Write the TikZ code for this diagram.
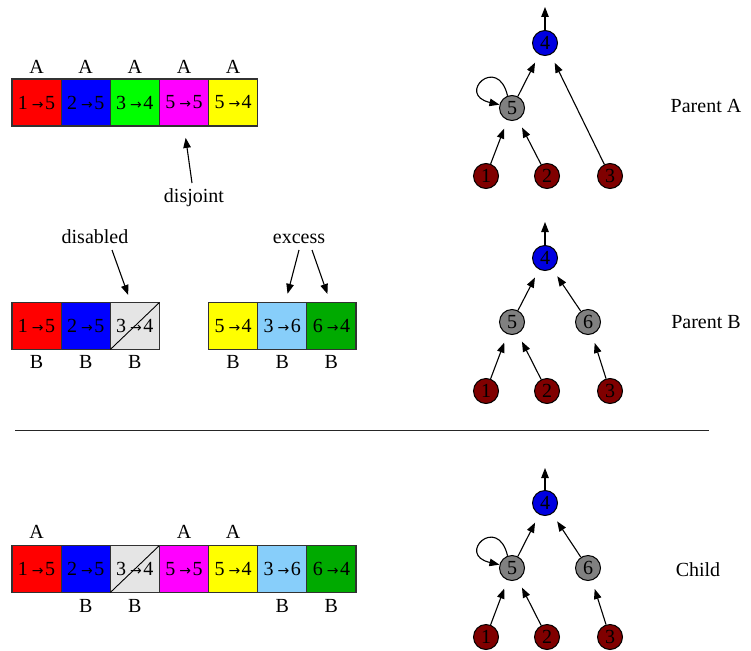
\documentclass[tikz,border=0pt]{standalone}
\usepackage{fontspec}
\setmainfont{Liberation Serif}
\newfontfamily\arrowfont{DejaVu Sans}
\usetikzlibrary{arrows.meta,calc}
\definecolor{gred}{RGB}{255,0,0}
\definecolor{gblue}{RGB}{0,0,255}
\definecolor{ggreen}{RGB}{0,255,0}
\definecolor{gmag}{RGB}{255,0,255}
\definecolor{gyel}{RGB}{255,255,0}
\definecolor{ggray}{RGB}{229,229,229}
\definecolor{gsky}{RGB}{135,206,250}
\definecolor{gdgreen}{RGB}{0,170,0}
\definecolor{nblue}{RGB}{0,0,225}
\definecolor{ngray}{RGB}{128,128,128}
\definecolor{nred}{RGB}{128,0,0}
\definecolor{bord}{RGB}{50,50,50}
\newcommand{\gm}[2]{#1\hspace{4pt}{\arrowfont\fontsize{14}{14}\selectfont →}\hspace{1.5pt}#2}
\begin{document}
\begin{tikzpicture}[x=1pt,y=-1pt,font=\fontsize{20}{24}\selectfont,
  gene/.style={draw=bord,line width=1.1pt,minimum width=49.14pt,minimum height=47pt,inner sep=0pt,outer sep=0pt},
  lab/.style={anchor=base,inner sep=0pt},
  vtx/.style={circle,draw=black,line width=1pt,minimum size=25pt,inner sep=0pt,font=\fontsize{20}{20}\selectfont},
  arr/.style={-{Triangle[length=10pt,width=7.5pt]},line width=1.1pt},
  gap/.style={shorten >=9pt}]
\useasboundingbox (0,0) rectangle (751,650);
% ---------- Parent A genome ----------
\node[gene,fill=gred]  (a1) at (36.57,102.5) {\gm{1}{5}};
\node[gene,fill=gblue] (a2) at (85.71,102.5) {\gm{2}{5}};
\node[gene,fill=ggreen](a3) at (134.85,102.5) {\gm{3}{4}};
\node[gene,fill=gmag]  (a4) at (183.99,102.5) {\gm{5}{5}};
\node[gene,fill=gyel]  (a5) at (233.13,102.5) {\gm{5}{4}};
\node[lab] (la1) at (36.57,74) {A};
\node[lab] (la2) at (85.71,74) {A};
\node[lab] (la3) at (134.85,74) {A};
\node[lab] (la4) at (183.99,74) {A};
\node[lab] (la5) at (233.13,74) {A};
\node[lab] (dis) at (194,202) {disjoint};
\coordinate (disT) at (192,183);
\draw[arr,shorten >=12pt] (disT) -- (a4.south);
% ---------- Parent B genome ----------
\node[gene,fill=gred]  (b1) at (36.57,326) {\gm{1}{5}};
\node[gene,fill=gblue] (b2) at (85.71,326) {\gm{2}{5}};
\node[gene,fill=ggray] (b3) at (134.85,326) {\gm{3}{4}};
\draw[line width=0.9pt] (b3.south west) -- (b3.north east);
\node[gene,fill=gyel]  (b4) at (233.13,326) {\gm{5}{4}};
\node[gene,fill=gsky]  (b5) at (282.27,326) {\gm{3}{6}};
\node[gene,fill=gdgreen](b6) at (331.41,326) {\gm{6}{4}};
\node[lab] (lb1) at (36.57,368) {B};
\node[lab] (lb2) at (85.71,368) {B};
\node[lab] (lb3) at (134.85,368) {B};
\node[lab] (lb4) at (233.13,368) {B};
\node[lab] (lb5) at (282.27,368) {B};
\node[lab] (lb6) at (331.41,368) {B};
\node[lab] (dlab) at (95,243) {disabled};
\coordinate (dT) at (112,250);
\draw[arr,shorten >=8pt] (dT) -- ($(b3.north)+(-4,0)$);
\node[lab] (elab) at (299,243) {excess};
\coordinate (eT1) at (299,250);
\coordinate (eT2) at (312,250);
\draw[arr,shorten >=9pt] (eT1) -- ($(b5.north)+(3,0)$);
\draw[arr,shorten >=9pt] (eT2) -- ($(b6.north)+(-1,0)$);
% ---------- separator ----------
\coordinate (s1) at (15,430);
\coordinate (s2) at (709,430);
\draw[line width=1pt,black!85] (s1) -- (s2);
% ---------- Child genome ----------
\node[gene,fill=gred]  (c1) at (36.57,569) {\gm{1}{5}};
\node[gene,fill=gblue] (c2) at (85.71,569) {\gm{2}{5}};
\node[gene,fill=ggray] (c3) at (134.85,569) {\gm{3}{4}};
\draw[line width=0.9pt] (c3.south west) -- (c3.north east);
\node[gene,fill=gmag]  (c4) at (183.99,569) {\gm{5}{5}};
\node[gene,fill=gyel]  (c5) at (233.13,569) {\gm{5}{4}};
\node[gene,fill=gsky]  (c6) at (282.27,569) {\gm{3}{6}};
\node[gene,fill=gdgreen](c7) at (331.41,569) {\gm{6}{4}};
\node[lab] (lc1) at (36.57,538) {A};
\node[lab] (lc4) at (183.99,538) {A};
\node[lab] (lc5) at (233.13,538) {A};
\node[lab] (lc2) at (85.71,612) {B};
\node[lab] (lc3) at (134.85,612) {B};
\node[lab] (lc6) at (282.27,612) {B};
\node[lab] (lc7) at (331.41,612) {B};
% ---------- Parent A network ----------
\node[vtx,fill=nblue] (pa4) at (545,43) {4};
\node[vtx,fill=ngray] (pa5) at (512,108) {5};
\node[vtx,fill=nred]  (pa1) at (486,176) {1};
\node[vtx,fill=nred]  (pa2) at (547,176) {2};
\node[vtx,fill=nred]  (pa3) at (610,176) {3};
\coordinate (pa0) at (545,7);
\draw[arr] (pa4) -- (pa0);
\draw[arr,gap] (pa5) -- (pa4);
\draw[arr,gap] (pa3) -- (pa4);
\draw[arr,gap] (pa1) -- (pa5);
\draw[arr,gap] (pa2) -- (pa5);
\draw[arr] (pa5.110) .. controls +(-10,-42) and +(-44,-10) .. (pa5.165);
\node (tA) at (706,106) {Parent A};
% ---------- Parent B network ----------
\node[vtx,fill=nblue] (pb4) at (545,258) {4};
\node[vtx,fill=ngray] (pb5) at (512,322) {5};
\node[vtx,fill=ngray] (pb6) at (588,322) {6};
\node[vtx,fill=nred]  (pb1) at (486,391) {1};
\node[vtx,fill=nred]  (pb2) at (547,391) {2};
\node[vtx,fill=nred]  (pb3) at (610,391) {3};
\coordinate (pb0) at (545,222);
\draw[arr] (pb4) -- (pb0);
\draw[arr,gap] (pb5) -- (pb4);
\draw[arr,gap] (pb6) -- (pb4);
\draw[arr,gap] (pb1) -- (pb5);
\draw[arr,gap] (pb2) -- (pb5);
\draw[arr,gap] (pb3) -- (pb6);
\node (tB) at (706,322) {Parent B};
% ---------- Child network ----------
\node[vtx,fill=nblue] (pc4) at (545,503) {4};
\node[vtx,fill=ngray] (pc5) at (512,568) {5};
\node[vtx,fill=ngray] (pc6) at (588,568) {6};
\node[vtx,fill=nred]  (pc1) at (486,637) {1};
\node[vtx,fill=nred]  (pc2) at (547,637) {2};
\node[vtx,fill=nred]  (pc3) at (610,637) {3};
\coordinate (pc0) at (545,468);
\draw[arr] (pc4) -- (pc0);
\draw[arr,gap] (pc5) -- (pc4);
\draw[arr,gap] (pc6) -- (pc4);
\draw[arr,gap] (pc1) -- (pc5);
\draw[arr,gap] (pc2) -- (pc5);
\draw[arr,gap] (pc3) -- (pc6);
\draw[arr] (pc5.110) .. controls +(-10,-42) and +(-44,-10) .. (pc5.165);
\node (tC) at (698,570) {Child};
\end{tikzpicture}
\end{document}
